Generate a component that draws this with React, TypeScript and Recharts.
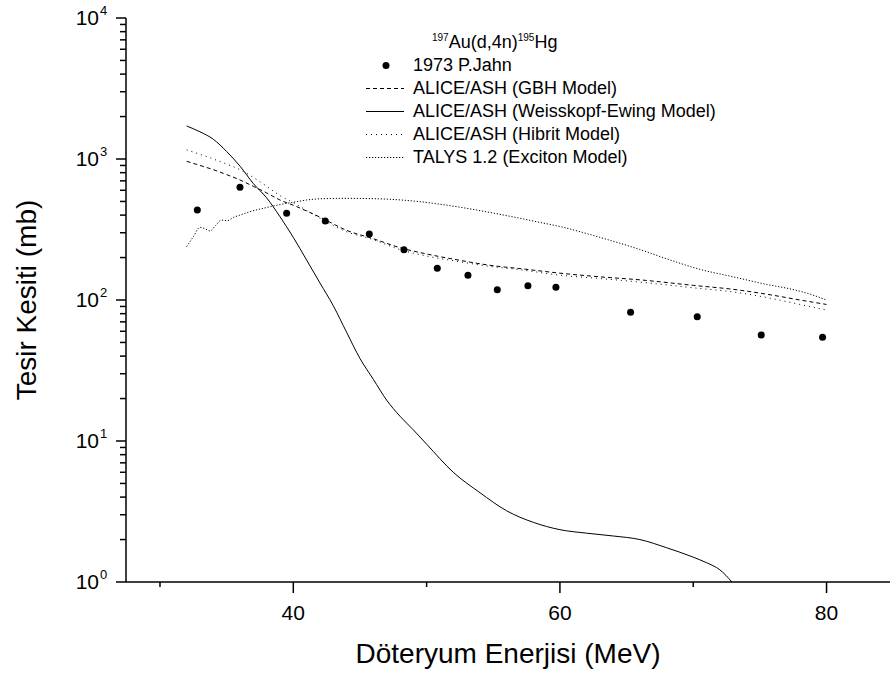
import { ComposedChart, Line, Scatter, XAxis, YAxis, Legend } from 'recharts';

const FONT = '"Liberation Sans", Arial, Helvetica, sans-serif';

// 1973 P.Jahn experimental points
const EXP_ENERGY = [32.8, 36.0, 39.5, 42.4, 45.7, 48.3, 50.8, 53.1, 55.3, 57.6, 59.7, 65.3, 70.3, 75.1, 79.7];
const EXP_XS = [435, 630, 412, 363, 294, 227, 168, 150, 118, 126, 123, 82, 76, 56.5, 54.4];

// ALICE/ASH (GBH Model)
const GBH_ENERGY = [32, 33, 34, 35, 36, 37, 38, 39, 40, 42, 44, 46, 48, 50, 52, 55, 57, 60, 63, 66, 70, 73, 76, 78, 80];
const GBH_XS = [963, 900, 840, 775, 710, 640, 575, 512, 470, 387, 312, 272, 235, 212, 195, 175, 167, 155, 146, 139, 127, 119, 108, 100, 93];

// ALICE/ASH (Weisskopf-Ewing Model)
const WE_ENERGY = [32, 33, 34, 35, 36, 37, 38, 39, 40, 41, 42, 43, 44, 45, 46, 47, 48, 49, 50, 52, 54, 56, 58, 60, 62, 64, 66, 68, 70, 71, 72, 72.9];
const WE_XS = [1714, 1560, 1380, 1130, 890, 670, 530, 390, 278, 192, 132, 91, 59, 38.5, 27.4, 19.5, 15, 12, 9.5, 6.0, 4.3, 3.2, 2.65, 2.35, 2.22, 2.12, 2.0, 1.75, 1.5, 1.37, 1.22, 1.0];

// ALICE/ASH (Hibrit Model)
const HIB_ENERGY = [32, 33, 34, 35, 36, 37, 38, 39, 40, 42, 44, 46, 48, 50, 52, 55, 57, 60, 63, 66, 70, 73, 76, 78, 80];
const HIB_XS = [1160, 1080, 1000, 920, 840, 740, 640, 550, 490, 380, 305, 268, 228, 205, 190, 172, 164, 150, 142, 134, 122, 114, 102, 93, 85];

// TALYS 1.2 (Exciton Model)
const TALYS_ENERGY = [32, 32.5, 33, 33.4, 33.75, 34.2, 34.6, 35.05, 35.5, 36, 36.75, 37.75, 39, 40.25, 41, 42, 44, 45, 47.25, 49.5, 51, 53, 55.5, 57, 58.5, 60, 63, 66, 68, 70.5, 73, 75.5, 77.25, 78.5, 80];
const TALYS_XS = [239, 281, 328, 319, 309, 340, 369, 365, 385, 400, 423, 447, 475, 498, 512, 522, 526, 525, 518, 498, 478, 447, 405, 380, 355, 332, 278, 228, 196, 165, 146, 129, 120, 112, 100];

const X_TICKS = [30, 40, 50, 60, 70, 80];
const X_LABELED = [40, 60, 80];
const Y_DECADES = [1, 10, 100, 1000, 10000];
const Y_POWERS = ['0', '1', '2', '3', '4'];
const Y_MINOR = [2, 3, 4, 5, 6, 7, 8, 9];
const Y_TICKS = Y_DECADES.flatMap((d, i) => (i < Y_DECADES.length - 1 ? [d, ...Y_MINOR.map((m) => m * d)] : [d]));

const toRows = (xs: number[], ys: number[]) => xs.map((x, i) => ({ x, y: ys[i] }));

const expData = toRows(EXP_ENERGY, EXP_XS);
const gbhData = toRows(GBH_ENERGY, GBH_XS);
const weData = toRows(WE_ENERGY, WE_XS);
const hibData = toRows(HIB_ENERGY, HIB_XS);
const talysData = toRows(TALYS_ENERGY, TALYS_XS);

const LEGEND_ITEMS = [
  { name: '1973 P.Jahn', kind: 'dot' },
  { name: 'ALICE/ASH (GBH Model)', dash: '4 3' },
  { name: 'ALICE/ASH (Weisskopf-Ewing Model)', dash: undefined },
  { name: 'ALICE/ASH (Hibrit Model)', dash: '1 4' },
  { name: 'TALYS 1.2 (Exciton Model)', dash: '1.2 1.8' },
];

function YTick({ x, y, payload }: any) {
  const idx = Y_DECADES.indexOf(payload.value);
  const major = idx >= 0;
  return (
    <g>
      <line x1={x} x2={x - (major ? 10 : 6)} y1={y} y2={y} stroke="#000" strokeWidth={1.5} />
      {major && (
        <text x={x - 27} y={y + 7} textAnchor="end" fontSize={21} fontFamily={FONT} fill="#000">
          10
        </text>
      )}
      {major && (
        <text x={x - 26} y={y - 3} textAnchor="start" fontSize={13} fontFamily={FONT} fill="#000">
          {Y_POWERS[idx]}
        </text>
      )}
    </g>
  );
}

function XTick({ x, y, payload }: any) {
  const major = X_LABELED.includes(payload.value);
  return (
    <g>
      <line x1={x} x2={x} y1={y} y2={y + (major ? 11 : 5)} stroke="#000" strokeWidth={1.5} />
      {major && (
        <text x={x} y={y + 38} textAnchor="middle" fontSize={21} fontFamily={FONT} fill="#000">
          {payload.value}
        </text>
      )}
    </g>
  );
}

function XTitle({ viewBox }: any) {
  return (
    <text x={viewBox.x + viewBox.width / 2} y={663} textAnchor="middle" fontSize={28} fontFamily={FONT} fill="#000">
      Döteryum Enerjisi (MeV)
    </text>
  );
}

function YTitle({ viewBox }: any) {
  const cy = viewBox.y + viewBox.height / 2;
  return (
    <text
      x={36}
      y={cy}
      transform={`rotate(-90, 36, ${cy})`}
      textAnchor="middle"
      fontSize={28}
      fontFamily={FONT}
      fill="#000"
    >
      Tesir Kesiti (mb)
    </text>
  );
}

function LegendBox() {
  const sup = { fontSize: 10, position: 'relative' as const, top: -7 };
  return (
    <div style={{ fontFamily: FONT, fontSize: 18, color: '#000', whiteSpace: 'nowrap' }}>
      <div style={{ height: 23, lineHeight: '23px', paddingLeft: 66 }}>
        <span style={sup}>197</span>Au(d,4n)<span style={sup}>195</span>Hg
      </div>
      {LEGEND_ITEMS.map((item) => (
        <div key={item.name} style={{ height: 23, lineHeight: '23px', display: 'flex', alignItems: 'center' }}>
          <svg width={40} height={23}>
            {item.kind === 'dot' ? (
              <circle cx={20} cy={11.5} r={3.5} fill="#000" />
            ) : (
              <line x1={0} x2={38} y1={11.5} y2={11.5} stroke="#000" strokeWidth={1} strokeDasharray={item.dash} />
            )}
          </svg>
          <span style={{ marginLeft: 7 }}>{item.name}</span>
        </div>
      ))}
    </div>
  );
}

export default function App() {
  return (
    <div style={{ position: 'absolute', left: 0, top: 0, background: '#fff' }}>
      <ComposedChart width={890} height={677} margin={{ top: 18, right: 0, bottom: 0, left: 0 }}>
        <XAxis
          type="number"
          dataKey="x"
          domain={[27.45, 84.76]}
          ticks={X_TICKS}
          interval={0}
          allowDataOverflow
          height={95}
          tickSize={0}
          tickMargin={0}
          tick={<XTick />}
          axisLine={{ stroke: '#000', strokeWidth: 1.5 }}
          label={<XTitle />}
        />
        <YAxis
          type="number"
          scale="log"
          domain={[1, 10000]}
          ticks={Y_TICKS}
          interval={0}
          allowDataOverflow
          width={126}
          tickSize={0}
          tickMargin={0}
          tick={<YTick />}
          axisLine={{ stroke: '#000', strokeWidth: 1.5 }}
          label={<YTitle />}
        />
        <Legend
          layout="vertical"
          align="center"
          verticalAlign="middle"
          content={<LegendBox />}
          wrapperStyle={{ left: 366, top: 31, width: 400 }}
        />
        <Line data={gbhData} dataKey="y" type="monotone" stroke="#000" strokeWidth={1} strokeDasharray="4 3" dot={false} isAnimationActive={false} />
        <Line data={weData} dataKey="y" type="monotone" stroke="#000" strokeWidth={1} dot={false} isAnimationActive={false} />
        <Line data={hibData} dataKey="y" type="monotone" stroke="#000" strokeWidth={1} strokeDasharray="1 4" dot={false} isAnimationActive={false} />
        <Line data={talysData} dataKey="y" type="monotone" stroke="#000" strokeWidth={1} strokeDasharray="1.2 1.8" dot={false} isAnimationActive={false} />
        <Scatter
          data={expData}
          dataKey="y"
          fill="#000"
          isAnimationActive={false}
          shape={(p: any) => <circle cx={p.cx} cy={p.cy} r={3.5} fill="#000" />}
        />
      </ComposedChart>
    </div>
  );
}
